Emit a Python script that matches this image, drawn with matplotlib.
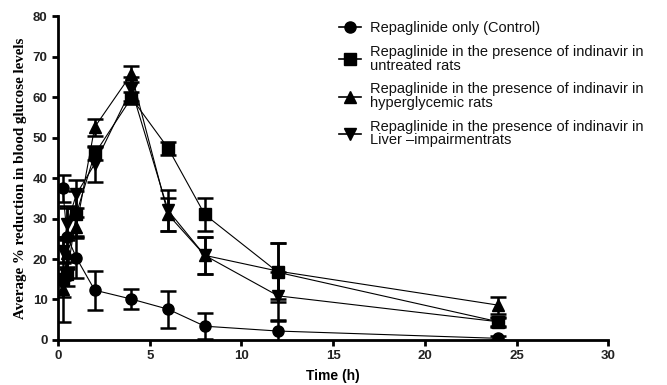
import numpy as np
import matplotlib.pyplot as plt

plt.rcParams['font.family'] = ['Liberation Sans', 'DejaVu Sans']

time_h = [0.25, 0.5, 1, 2, 4, 6, 8, 12, 24]

control     = [37.5, 25.5, 20.3, 12.3, 10.1, 7.6, 3.4, 2.2, 0.4]
control_err = [3.3, 7.5, 5.0, 4.8, 2.5, 4.6, 3.2, 2.5, 0.5]

untreated     = [15.0, 16.3, 31.2, 46.0, 59.8, 47.4, 31.0, 16.7, 4.5]
untreated_err = [10.5, 3.0, 5.5, 1.6, 1.5, 1.6, 4.0, 7.3, 1.0]

hyper     = [12.7, 21.5, 27.9, 52.6, 65.7, 31.0, 20.9, 17.0, 8.6]
hyper_err = [2.0, 4.0, 2.5, 2.1, 1.9, 4.0, 4.5, 7.0, 2.1]

liver     = [22.0, 28.7, 36.0, 43.5, 62.0, 32.0, 20.9, 10.9, 4.5]
liver_err = [3.0, 4.0, 3.5, 4.5, 3.0, 5.0, 4.5, 6.0, 1.2]

labels = [
    "Repaglinide only (Control)",
    "Repaglinide in the presence of indinavir in\nuntreated rats",
    "Repaglinide in the presence of indinavir in\nhyperglycemic rats",
    "Repaglinide in the presence of indinavir in\nLiver \u2013impairmentrats",
]
series = [(control, control_err, "o"), (untreated, untreated_err, "s"),
          (hyper, hyper_err, "^"), (liver, liver_err, "v")]

fig = plt.figure(figsize=(6.67, 3.85), dpi=100)
ax = fig.add_axes([0.087, 0.117, 0.825, 0.841])

for (vals, errs, mk), lab in zip(series, labels):
    ax.errorbar(time_h, vals, yerr=errs, color="black", marker=mk,
                markersize=8, linewidth=0.8, elinewidth=1.8,
                capsize=5.5, capthick=1.8, label=lab)

ax.set_xlim(0, 30)
ax.set_ylim(0, 80)
ax.set_xticks(np.arange(0, 31, 5))
ax.set_yticks(np.arange(0, 81, 10))
for side in ["top", "right"]:
    ax.spines[side].set_visible(False)
for side in ["left", "bottom"]:
    ax.spines[side].set_linewidth(2)
ax.tick_params(width=2, length=4, labelsize=9.5)
for t in ax.get_xticklabels() + ax.get_yticklabels():
    t.set_fontweight("bold")
    t.set_color("#222222")

ax.set_xlabel("Time (h)", fontsize=10, fontweight="bold", labelpad=5)
ax.set_ylabel("Average % reduction in blood glucose levels",
              fontsize=10.8, fontweight="bold", family="Liberation Serif", labelpad=4)

leg_handles = [plt.Line2D([], [], color="black", marker=m, markersize=8, linewidth=1.2)
               for m in ["o", "s", "^", "v"]]
leg = ax.legend(leg_handles, labels, loc="upper left", bbox_to_anchor=(0.487, 1.025),
                frameon=False, fontsize=10.5, handlelength=1.5, labelspacing=0.68,
                handletextpad=0.6)
for t in leg.get_texts():
    t.set_linespacing(0.95)
    t.set_color("#111111")

fig.savefig("out.png", dpi=100)
